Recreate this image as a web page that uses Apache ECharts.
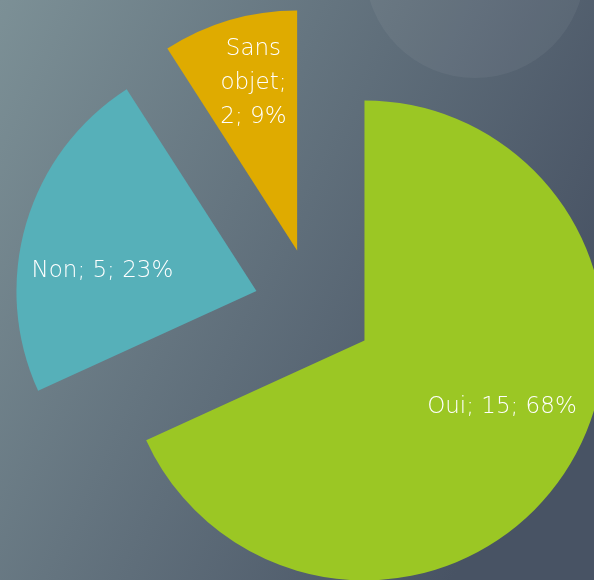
<!DOCTYPE html>
<html><head><meta charset="utf-8">
<script src="https://cdn.jsdelivr.net/npm/echarts@6/dist/echarts.min.js"></script>
<style>html,body{margin:0;padding:0;}#c{width:594px;height:580px;}</style>
</head><body><div id="c"></div>
<script>
const categories = ['Oui', 'Non', 'Sans objet'];
const values = [15, 5, 2];
const colors = ['#9bc724', '#56b0b9', '#dfab00'];
const labelShift = [[34, 0], [-36, 15], [-9, -49]];

const chart = echarts.init(document.getElementById('c'));
chart.setOption({
  animation: false,
  backgroundColor: {
    type: 'linear', x: 0, y: 0, x2: 1, y2: 0.5,
    colorStops: [{offset: 0, color: '#7c9096'}, {offset: 1, color: '#485364'}]
  },
  graphic: [{
    type: 'circle', shape: {cx: 475, cy: -32, r: 110},
    style: {fill: 'rgba(255,255,255,0.05)'}, silent: true
  }],
  series: [{
    type: 'pie',
    center: [314, 308],
    radius: 240,
    startAngle: 90,
    clockwise: true,
    selectedMode: 'multiple',
    selectedOffset: 60,
    percentPrecision: 0,
    emphasis: {disabled: true},
    label: {
      show: true, position: 'inside', color: '#fff',
      fontFamily: '"DejaVu Sans", sans-serif', fontWeight: 200, fontSize: 23, lineHeight: 34,
      align: 'center',
      formatter: function (p) {
        if (p.dataIndex === 2) {
          return p.name.replace(' ', '\n') + ';\n' + p.value + '; ' + p.percent + '%';
        }
        return p.name + '; ' + p.value + '; ' + p.percent + '%';
      }
    },
    labelLayout: function (p) {
      const s = labelShift[p.dataIndex];
      return {dx: s[0], dy: s[1]};
    },
    data: categories.map((n, i) => ({
      name: n, value: values[i], selected: true,
      itemStyle: {color: colors[i]}
    }))
  }]
});
</script></body></html>
